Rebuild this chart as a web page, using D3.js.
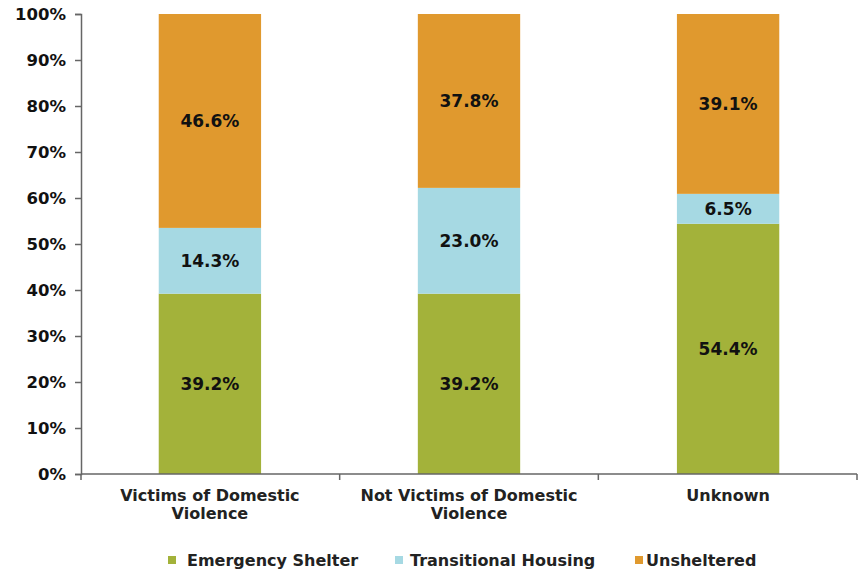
<!DOCTYPE html>
<meta charset="utf-8">
<html>
<head><title>Stacked shelter bars</title>
<script src="https://d3js.org/d3.v7.min.js"></script>
<style>
    body { margin: 0; background: #fff; }
    .tick text { font-family: "DejaVu Sans", Verdana, sans-serif; font-weight: bold; font-size: 16.5px; fill: #111; }
    .catlab { font-family: "DejaVu Sans", Verdana, sans-serif; font-weight: bold; font-size: 16px; fill: #222; }
    .vlab { font-family: "DejaVu Sans", Verdana, sans-serif; font-weight: bold; font-size: 17px; fill: #111; }
    .legend text { font-family: "DejaVu Sans", Verdana, sans-serif; font-weight: bold; font-size: 16px; fill: #222; }
</style>
</head>
<body>
<script>
// categories and series (percent of each group)
var categories = [["Victims of Domestic", "Violence"], ["Not Victims of Domestic", "Violence"], ["Unknown"]];
var seriesNames = ["Emergency Shelter", "Transitional Housing", "Unsheltered"];
var emergency = [39.2, 39.2, 54.4];
var transitional = [14.3, 23.0, 6.5];
var unsheltered = [46.6, 37.8, 39.1];
var yTicks = [0, 10, 20, 30, 40, 50, 60, 70, 80, 90, 100];
var colors = ["#a3b23a", "#a6d9e3", "#e0992e"];

var W = 862, H = 572;
var margin = {left: 81, right: 5, top: 14, bottom: 98};

var svg = d3.select("body").append("svg").attr("width", W).attr("height", H);

var x = d3.scaleBand()
    .domain(d3.range(categories.length))
    .range([margin.left, W - margin.right])
    .paddingInner(0.605).paddingOuter(0.3);
var y = d3.scaleLinear().domain([0, 100]).range([H - margin.bottom, margin.top]);

var rows = categories.map(function(c, i) {
    return {i: i, e: emergency[i], t: transitional[i], u: unsheltered[i]};
});
var stack = d3.stack().keys(["e", "t", "u"]);
var layers = stack(rows);

var g = svg.append("g");
layers.forEach(function(layer, k) {
    g.selectAll(null).data(layer).enter().append("rect")
        .attr("x", function(d) { return x(d.data.i); })
        .attr("width", x.bandwidth())
        .attr("y", function(d) { return y(k == layers.length - 1 ? 100 : d[1]); })
        .attr("height", function(d) { return y(d[0]) - y(k == layers.length - 1 ? 100 : d[1]); })
        .attr("fill", colors[k]);
    g.selectAll(null).data(layer).enter().append("text")
        .attr("class", "vlab")
        .attr("x", function(d) { return x(d.data.i) + x.bandwidth() / 2; })
        .attr("y", function(d) { return (y(d[0]) + y(Math.min(d[1], 100))) / 2 + 6; })
        .attr("text-anchor", "middle")
        .text(function(d) { return (d[1] - d[0]).toFixed(1) + "%"; });
});

// y axis
svg.append("g")
    .attr("transform", "translate(" + margin.left + ",0)")
    .call(d3.axisLeft(y).tickValues(yTicks).tickFormat(function(d) { return d + "%"; }).tickSize(6).tickPadding(9))
    .call(function(a) { a.selectAll("line,path").attr("stroke", "#666").attr("stroke-width", 1.5); });

// x axis: ticks at band boundaries
var xa = svg.append("g").attr("transform", "translate(0," + y(0) + ")");
xa.append("line").attr("x1", margin.left).attr("x2", W - margin.right)
    .attr("stroke", "#666").attr("stroke-width", 1.5);
var step = (W - margin.right - margin.left) / categories.length;
d3.range(categories.length + 1).forEach(function(k) {
    xa.append("line").attr("x1", margin.left + k * step).attr("x2", margin.left + k * step)
        .attr("y1", 0).attr("y2", 6).attr("stroke", "#666").attr("stroke-width", 1.5);
});
categories.forEach(function(c, i) {
    var t = svg.append("text").attr("class", "catlab").attr("text-anchor", "middle")
        .attr("x", x(i) + x.bandwidth() / 2).attr("y", y(0) + 27);
    c.forEach(function(line, j) {
        t.append("tspan").attr("x", x(i) + x.bandwidth() / 2).attr("dy", j == 0 ? 0 : 18).text(line);
    });
});

// legend
var legSq = [168, 395, 635], legTx = [187, 410, 646];
var leg = svg.append("g").attr("class", "legend");
seriesNames.forEach(function(s, k) {
    leg.append("rect").attr("x", legSq[k]).attr("y", 556).attr("width", 8).attr("height", 8).attr("fill", colors[k]);
    leg.append("text").attr("x", legTx[k]).attr("y", 566).text(s);
});
</script>
</body>
</html>
